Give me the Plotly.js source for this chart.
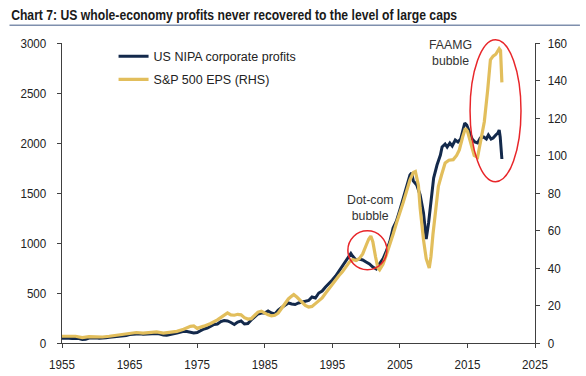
<!DOCTYPE html>
<html><head><meta charset="utf-8">
<script src="https://cdn.plot.ly/plotly-3.0.1.min.js"></script>
<style>html,body{margin:0;padding:0;background:#fff;}#chart{width:586px;height:376px;}</style>
</head><body><div id="chart"></div>
<script>
var nipaDates = [1955.0,1955.5,1956.0,1956.5,1957.0,1957.5,1958.0,1958.5,1959.0,1959.5,1960.0,1960.5,1961.0,1961.5,1962.0,1962.5,1963.0,1963.5,1964.0,1964.5,1965.0,1965.5,1966.0,1966.5,1967.0,1967.5,1968.0,1968.5,1969.0,1969.5,1970.0,1970.5,1971.0,1971.5,1972.0,1972.5,1973.0,1973.5,1974.0,1974.5,1975.0,1975.5,1976.0,1976.5,1977.0,1977.5,1978.0,1978.5,1979.0,1979.5,1980.0,1980.5,1981.0,1981.5,1982.0,1982.5,1983.0,1983.5,1984.0,1984.5,1985.0,1985.5,1986.0,1986.5,1987.0,1987.5,1988.0,1988.5,1989.0,1989.5,1990.0,1990.5,1991.0,1991.5,1992.0,1992.5,1993.0,1993.5,1994.0,1994.5,1995.0,1995.5,1996.0,1996.5,1997.0,1997.5,1997.75,1998.0,1998.5,1999.0,1999.5,2000.0,2000.5,2001.0,2001.5,2001.75,2002.0,2002.5,2003.0,2003.5,2004.0,2004.5,2005.0,2005.5,2006.0,2006.5,2006.75,2007.0,2007.5,2008.0,2008.5,2008.9,2009.25,2009.5,2010.0,2010.5,2011.0,2011.25,2011.7,2012.0,2012.4,2012.75,2013.2,2013.6,2014.0,2014.3,2014.6,2014.9,2015.3,2015.7,2016.1,2016.5,2016.9,2017.4,2017.8,2018.1,2018.5,2018.8,2019.2,2019.5,2019.7,2019.85,2020.1];
var nipaValues = [48,50,47,46,48,45,36,38,50,52,52,48,47,53,57,60,62,66,72,75,85,88,95,92,88,90,95,96,95,90,80,78,88,92,100,108,118,115,110,100,105,125,140,150,165,185,190,215,225,220,205,185,210,220,190,195,230,265,290,300,300,320,300,290,330,355,380,400,390,385,400,410,420,425,460,450,500,520,560,590,630,670,720,760,820,860,895,870,830,840,830,810,790,760,740,770,790,840,920,1010,1150,1220,1330,1450,1560,1680,1700,1620,1580,1480,1300,1040,1200,1350,1650,1780,1880,1960,1990,1960,2000,1970,2030,2010,2040,2120,2200,2180,2100,2040,2010,2000,2050,2060,2040,2080,2040,2050,2080,2100,2130,2060,1840];

var epsDates = [1955.0,1956.0,1957.0,1958.0,1959.0,1960.0,1961.0,1962.0,1963.0,1964.0,1965.0,1966.0,1967.0,1968.0,1969.0,1970.0,1971.0,1972.0,1973.0,1974.0,1974.5,1975.0,1976.0,1977.0,1978.0,1979.0,1979.5,1980.0,1980.5,1981.0,1981.5,1982.0,1982.5,1983.0,1983.5,1984.0,1984.5,1985.0,1985.5,1986.0,1986.5,1987.0,1987.5,1988.0,1988.5,1989.0,1989.3,1989.75,1990.0,1990.5,1991.0,1991.5,1992.0,1992.5,1993.0,1993.5,1994.0,1994.5,1995.0,1995.5,1996.0,1996.5,1997.0,1997.5,1998.0,1998.5,1999.0,1999.5,2000.0,2000.4,2000.7,2001.0,2001.4,2001.75,2002.0,2002.5,2003.0,2003.5,2004.0,2004.5,2005.0,2005.5,2006.0,2006.5,2007.0,2007.3,2007.75,2008.0,2008.5,2008.9,2009.35,2009.6,2009.9,2010.3,2010.7,2011.2,2011.7,2012.25,2012.9,2013.4,2013.8,2014.3,2014.7,2015.0,2015.5,2016.0,2016.5,2017.0,2017.5,2018.0,2018.4,2018.8,2019.2,2019.7,2019.9,2020.1];
var epsValues = [3.6,3.5,3.6,2.9,3.4,3.3,3.2,3.6,4.0,4.6,5.2,5.6,5.3,5.8,5.9,5.3,5.6,6.2,7.3,8.9,9.1,7.8,9.0,10.4,12.3,14.5,16.0,15.0,14.8,15.3,15.0,13.5,12.8,13.0,14.5,16.5,17.0,15.8,15.0,14.5,14.8,16.0,18.5,21.0,23.5,25.0,25.8,24.5,23.5,22.0,20.0,19.2,19.5,21.0,22.5,24.0,26.5,29.0,31.5,33.5,36.0,38.0,40.5,43.0,44.5,44.0,45.0,47.5,52.0,55.5,57.0,54.0,46.0,40.0,39.0,42.0,47.0,52.0,58.0,64.0,69.0,75.0,81.0,87.0,91.0,91.5,84.0,72.0,55.0,45.0,40.0,46.0,58.0,72.0,83.5,90.0,96.0,97.5,97.8,100.0,103.0,110.0,114.5,113.0,106.0,100.0,99.0,108.0,118.0,135.0,151.0,153.0,154.0,157.0,156.0,139.0];

var seriesNames = ['US NIPA corporate profits', 'S&P 500 EPS (RHS)'];
var xTicks = [1955,1965,1975,1985,1995,2005,2015,2025];

var FONT = '"Liberation Sans",Arial,sans-serif';

var traces = [
  {x: nipaDates, y: nipaValues, name: seriesNames[0], type: 'scatter', mode: 'lines',
   line: {color: '#13294B', width: 3}, yaxis: 'y', legendgroup: 'a'},
  {x: epsDates, y: epsValues, name: seriesNames[1], type: 'scatter', mode: 'lines',
   line: {color: '#E2BE5C', width: 3.2}, yaxis: 'y2', legendgroup: 'b'}
];

function axisCommon(extra) {
  return Object.assign({showgrid: false, zeroline: false, showline: true, linecolor: '#404040', linewidth: 1,
    ticks: 'outside', ticklen: 4, tickcolor: '#404040', tickfont: {family: FONT, size: 13.5, color: '#222'}}, extra);
}

var layout = {
  width: 586, height: 376,
  margin: {l: 61.5, r: 51, t: 43.3, b: 32.7, pad: 0},
  paper_bgcolor: '#fff', plot_bgcolor: '#fff',
  title: {text: 'Chart 7: US whole-economy profits never recovered to the level of large caps',
    x: 0.019, xanchor: 'left', xref: 'container', y: 0.962, yanchor: 'middle', yref: 'container',
    font: {family: FONT, size: 15, weight: 'bold', color: '#1a1a1a'}},
  xaxis: axisCommon({range: [1955, 2025], tickvals: xTicks, ticktext: xTicks.map(String), ticklabelstandoff: 5}),
  yaxis: axisCommon({range: [0, 3000], dtick: 500, tick0: 0, ticklabelstandoff: 8}),
  yaxis2: axisCommon({range: [0, 160], dtick: 20, tick0: 0, overlaying: 'y', side: 'right', ticklabelstandoff: 5}),
  showlegend: true,
  legend: {x: 0.109, y: 1.005, xanchor: 'left', yanchor: 'top', bgcolor: 'rgba(0,0,0,0)',
    font: {family: FONT, size: 12.5, color: '#222'}, traceorder: 'grouped', tracegroupgap: 4},
  annotations: [
    {xref: 'x', yref: 'y', x: 2012.44, y: 2898, text: 'FAAMG<br>bubble', showarrow: false,
     font: {family: FONT, size: 12.3, color: '#333'}, align: 'center'},
    {xref: 'x', yref: 'y', x: 2000.6, y: 1346, text: 'Dot-com<br>bubble', showarrow: false,
     font: {family: FONT, size: 12.3, color: '#333'}, align: 'center'}
  ],
  shapes: [
    {type: 'line', xref: 'paper', yref: 'paper', x0: -0.111, x1: 1.095, y0: 1.059, y1: 1.059,
     line: {color: '#7F8FAD', width: 1.5}},
    {type: 'circle', xref: 'paper', yref: 'paper', x0: 0.8627, x1: 0.9704, y0: 0.5377, y1: 1.011,
     line: {color: '#E8262A', width: 1.5}},
    {type: 'circle', xref: 'paper', yref: 'paper', x0: 0.6044, x1: 0.6868, y0: 0.2443, y1: 0.3743,
     line: {color: '#E8262A', width: 1.5}}
  ]
};

Plotly.newPlot('chart', traces, layout, {displayModeBar: false, staticPlot: true}).then(function () {
  var t = document.querySelector('.gtitle');
  if (t) {
    t.setAttribute('textLength', '446');
    t.setAttribute('lengthAdjust', 'spacingAndGlyphs');
  }
  document.querySelectorAll('.xtick text, .ytick text, .y2tick text').forEach(function (el) {
    var L = el.getComputedTextLength();
    if (L > 0) {
      el.setAttribute('textLength', (L * 0.86).toFixed(2));
      el.setAttribute('lengthAdjust', 'spacingAndGlyphs');
    }
  });
});
</script></body></html>
